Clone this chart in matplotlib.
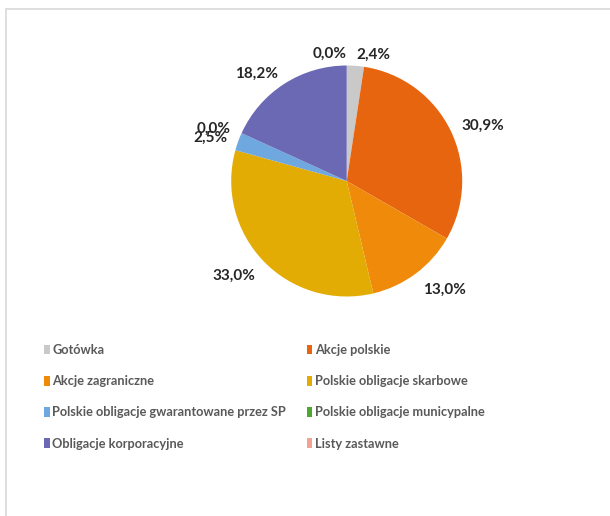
import numpy as np
import matplotlib
matplotlib.use("Agg")
import matplotlib.pyplot as plt
from matplotlib.patches import Rectangle, Patch

categories = ["Gotówka", "Akcje polskie", "Akcje zagraniczne", "Polskie obligacje skarbowe",
              "Polskie obligacje gwarantowane przez SP", "Polskie obligacje municypalne",
              "Obligacje korporacyjne", "Listy zastawne"]
values = [2.4, 30.9, 13.0, 33.0, 2.5, 0.0, 18.2, 0.0]
colors = ["#C9C9C9", "#E8650F", "#F08A0A", "#E3AC05", "#6EA8DF", "#4EA72E", "#6B69B3", "#F2A393"]

plt.rcParams['font.family'] = ['Lato', 'DejaVu Sans']

W, H = 610, 516
fig = plt.figure(figsize=(W / 100, H / 100), dpi=100)

# outer light border
fig.patches.append(Rectangle((6 / W, -0.05), 1.1, 1 - 9 / H + 0.05, transform=fig.transFigure,
                             fill=False, edgecolor="#D9D9D9", linewidth=1.2))

cx, cy, R = 346.7, 181.0, 115.5
ax = fig.add_axes([(cx - R) / W, (H - cy - R) / H, 2 * R / W, 2 * R / H])
wedges, _ = ax.pie(values, colors=colors, startangle=90, counterclock=False,
                   wedgeprops=dict(linewidth=0))
ax.set_xlim(-1, 1)
ax.set_ylim(-1, 1)
ax.axis("off")

for w, v in zip(wedges, values):
    ang = np.deg2rad((w.theta1 + w.theta2) / 2)
    x, y = 1.1 * np.cos(ang), 1.1 * np.sin(ang)
    ha = "left" if np.cos(ang) > 1e-6 else "right"
    va = "center" if y > 0 else "top"
    ax.text(x, y, f"{v:.1f}%".replace(".", ","), ha=ha, va=va, fontsize=11,
            fontweight="bold", color="#262626", clip_on=False)

# legend in row-major order
order = [0, 2, 4, 6, 1, 3, 5, 7]
handles = [Patch(facecolor=colors[i], edgecolor="none") for i in order]
labels = [categories[i] for i in order]
lfont = dict(family=['Lato', 'DejaVu Sans'], size=9.2, weight='bold')
leg = fig.legend(handles, labels, ncol=2, loc="upper left", bbox_to_anchor=(44 / W, 1 - 344 / H),
                 frameon=False, prop=lfont, handlelength=0.45, handleheight=0.8, handletextpad=0.2,
                 columnspacing=1.6, labelspacing=1.5, borderaxespad=0, borderpad=0)
for t in leg.get_texts():
    t.set_color("#595959")

fig.savefig("out.png", dpi=100, facecolor="white")
